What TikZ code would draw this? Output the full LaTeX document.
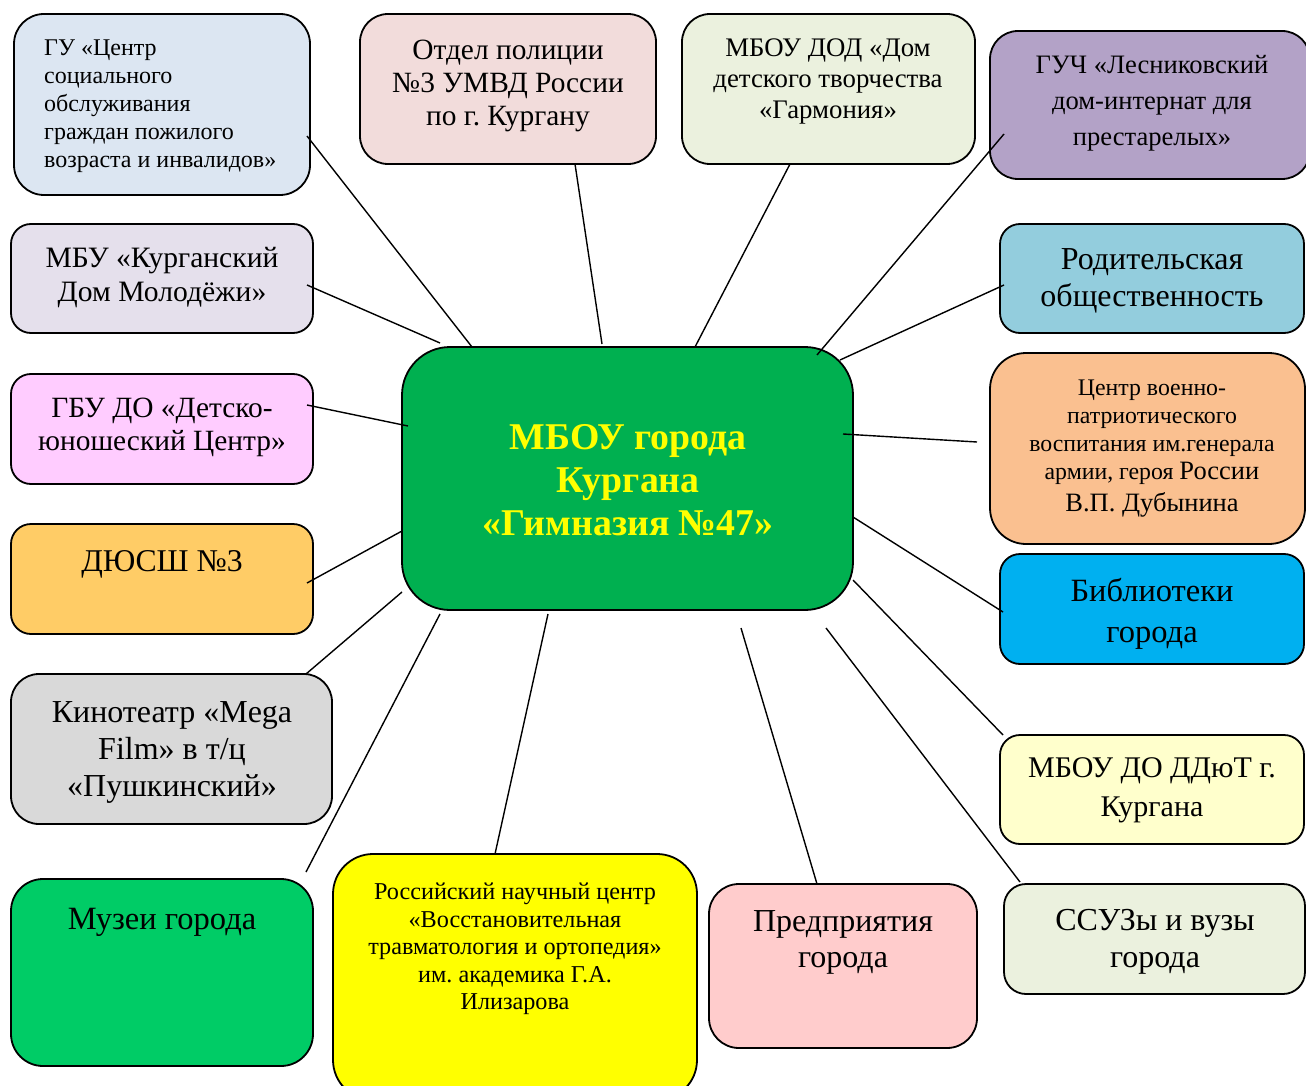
\documentclass[tikz,border=0pt]{standalone}
\usepackage{fontspec}
\setmainfont{Liberation Serif}
\usetikzlibrary{calc}
\frenchspacing
\definecolor{cGU}{HTML}{DCE6F2}
\definecolor{cPol}{HTML}{F2DCDB}
\definecolor{cDDT}{HTML}{EBF1DE}
\definecolor{cGUCH}{HTML}{B3A2C7}
\definecolor{cMBU}{HTML}{E5E0EC}
\definecolor{cPar}{HTML}{93CDDD}
\definecolor{cGBU}{HTML}{FFCCFF}
\definecolor{cVoen}{HTML}{FAC090}
\definecolor{cDus}{HTML}{FFCC66}
\definecolor{cLib}{HTML}{00B0F0}
\definecolor{cKino}{HTML}{D9D9D9}
\definecolor{cDdyut}{HTML}{FFFFCC}
\definecolor{cMuz}{HTML}{00CC66}
\definecolor{cRnc}{HTML}{FFFF00}
\definecolor{cPred}{HTML}{FFCCCC}
\definecolor{cSsuz}{HTML}{EBF1DE}
\definecolor{cMain}{HTML}{00B050}
\definecolor{cMainTxt}{HTML}{FFFF00}
\newcommand\fsz[2]{\fontsize{#1}{#2}\selectfont}
\newcommand\linkto[5]{\draw[conn] ($(#1.center)+(#2,#3)$) -- ($(main.center)+(#4,#5)$);}
\begin{document}
\frenchspacing
\begin{tikzpicture}[x=1pt,y=-1pt,
  bx/.style={draw=black, line width=1.8pt, rounded corners=#1, inner sep=0pt},
  bx/.default=20pt,
  txt/.style={inner sep=0pt, align=center, text=black, execute at begin node=\frenchspacing},
  conn/.style={draw=black, line width=1.4pt}]
\clip (0,0) rectangle (1306,1086);
\fill[white] (0,0) rectangle (1306,1086);
% boxes
\node[bx=30pt, fill=cGU, minimum width=296pt, minimum height=181pt] (gu) at (162,104.5) {};
\node[bx=28pt, fill=cPol, minimum width=296pt, minimum height=150pt] (pol) at (508,89) {};
\node[bx=28pt, fill=cDDT, minimum width=293pt, minimum height=150pt] (ddt) at (828.5,89) {};
\node[bx=28pt, fill=cGUCH, minimum width=320pt, minimum height=148pt] (guch) at (1150,105) {};
\node[bx, fill=cMBU, minimum width=302pt, minimum height=109pt] (mbu) at (162,278.5) {};
\node[bx, fill=cPar, minimum width=304pt, minimum height=109pt] (par) at (1152,278.5) {};
\node[bx, fill=cGBU, minimum width=302pt, minimum height=110pt] (gbu) at (162,429) {};
\node[bx=36pt, fill=cVoen, minimum width=315pt, minimum height=191pt] (voen) at (1147.5,448.5) {};
\node[bx, fill=cDus, minimum width=302pt, minimum height=110pt] (dus) at (162,579) {};
\node[bx, fill=cLib, minimum width=304pt, minimum height=110pt] (lib) at (1152,609) {};
\node[bx=28pt, fill=cKino, minimum width=321pt, minimum height=150pt] (kino) at (171.5,749) {};
\node[bx, fill=cDdyut, minimum width=304pt, minimum height=109pt] (ddyut) at (1152,789.5) {};
\node[bx=32pt, fill=cMuz, minimum width=302pt, minimum height=187pt] (muz) at (162,972.5) {};
\node[bx=40pt, fill=cRnc, minimum width=364pt, minimum height=246pt] (rnc) at (515,977) {};
\node[bx=30pt, fill=cPred, minimum width=268pt, minimum height=164pt] (pred) at (843,966) {};
\node[bx=22pt, fill=cSsuz, minimum width=301pt, minimum height=110pt] (ssuz) at (1154.5,939) {};
\node[bx=48pt, fill=cMain, minimum width=451pt, minimum height=263pt] (main) at (627.5,478.5) {};
% connectors
\linkto{gu}{145}{31.5}{-155.5}{-131.5}
\linkto{pol}{67}{75}{-25.5}{-134.5}
\linkto{ddt}{-38.5}{75}{67.5}{-131.5}
\linkto{guch}{-146}{29}{189.5}{-123.5}
\linkto{mbu}{145}{6.5}{-187.5}{-135.5}
\linkto{par}{-148}{6.5}{212.5}{-118.5}
\linkto{gbu}{145}{-24}{-219.5}{-52.5}
\linkto{voen}{-170.5}{-6.5}{215.5}{-44.5}
\linkto{dus}{145}{4}{-225.5}{52.5}
\linkto{kino}{134.5}{-75}{-225.5}{113.5}
\linkto{muz}{144}{-100.5}{-187.5}{135.5}
\linkto{rnc}{-20}{-123}{-79.5}{135.5}
\linkto{pred}{-26}{-82}{113.5}{149.5}
\linkto{ssuz}{-134.5}{-57}{198.5}{149.5}
\linkto{ddyut}{-149}{-54.5}{225.5}{101.5}
\linkto{lib}{-149}{3}{225.5}{38.5}
% texts
\node[txt, align=left, anchor=west, font=\fsz{24}{28}] at (44,106) {ГУ «Центр\\социального\\обслуживания\\граждан пожилого\\возраста и инвалидов»};
\node[txt, font=\fsz{29.4}{33}] at (508,86) {Отдел полиции\\№3 УМВД России\\по г. Кургану};
\node[txt, font=\fsz{26.8}{31}] at (828,81) {МБОУ ДОД «Дом\\детского творчества\\«Гармония»};
\node[txt, font=\fsz{26.6}{36}] at (1152,103) {ГУЧ «Лесниковский\\дом-интернат для\\престарелых»};
\node[txt, font=\fsz{29.6}{34}] at (162,278) {МБУ «Курганский\\Дом Молодёжи»};
\node[txt, font=\fsz{32}{37}] at (1152,281) {Родительская\\общественность};
\node[txt, font=\fsz{29.4}{33}] at (162,427) {ГБУ ДО «Детско-\\юношеский Центр»};
\node[txt, font=\fsz{23.8}{28}] at (1152,449) {Центр военно-\\патриотического\\воспитания им.генерала\\армии, героя {\fsz{26.5}{28}России}\\[4pt]{\fsz{26.5}{30}В.П. Дубынина}};
\node[txt, font=\fsz{31.7}{34}] at (162,564) {ДЮСШ №3};
\node[txt, font=\fsz{32.5}{41}] at (1152,614) {Библиотеки\\города};
\node[txt, font=\fsz{32}{37}] at (172,752) {Кинотеатр «Mega\\Film» в т/ц\\«Пушкинский»};
\node[txt, font=\fsz{30}{39}] at (1152,790) {МБОУ ДО ДДюТ г.\\Кургана};
\node[txt, font=\fsz{32.5}{34}] at (162,922) {Музеи города};
\node[txt, font=\fsz{24.2}{27.5}] at (515,949) {Российский научный центр\\«Восстановительная\\травматология и ортопедия»\\им. академика Г.А.\\Илизарова};
\node[txt, font=\fsz{32}{36}] at (843,942) {Предприятия\\города};
\node[txt, font=\fsz{32}{37}] at (1155,942) {ССУЗы и вузы\\города};
\node[txt, text=cMainTxt, font=\fsz{37.8}{43}\bfseries] at (628,480) {МБОУ города\\Кургана\\«Гимназия №47»};
\end{tikzpicture}
\end{document}
